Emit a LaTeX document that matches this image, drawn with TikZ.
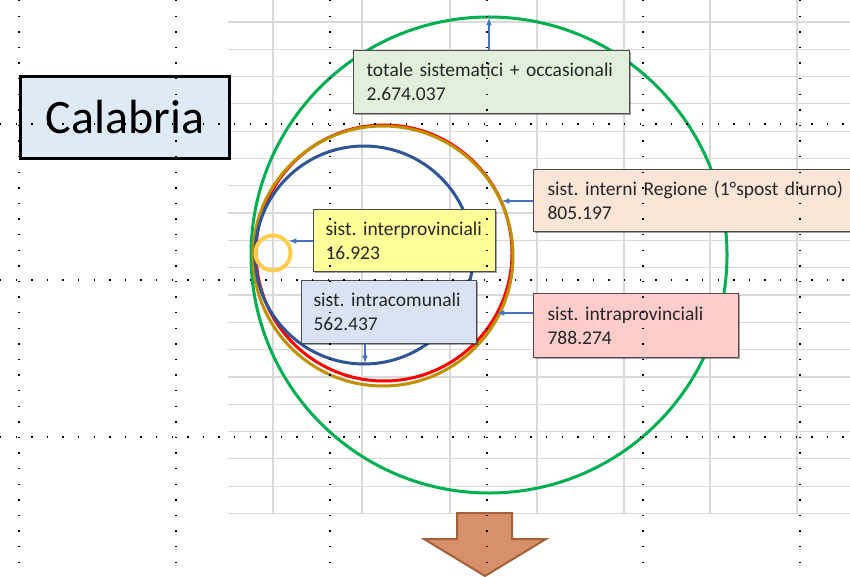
\documentclass[tikz,border=0pt]{standalone}
\usepackage{fontspec}
\setmainfont{Carlito}
\usepackage{tikz}
\usetikzlibrary{positioning}
\usetikzlibrary{shadows}
\frenchspacing

\definecolor{cellgrid}{HTML}{D9D9D9}
\definecolor{ringgreen}{HTML}{00B050}
\definecolor{ringred}{HTML}{FF0000}
\definecolor{ringgold}{HTML}{BF9000}
\definecolor{ringblue}{HTML}{2F5597}
\definecolor{ringyellow}{HTML}{FFCC4D}
\definecolor{arrowblue}{HTML}{4472C4}
\definecolor{totfill}{HTML}{E2EFDA}
\definecolor{regfill}{HTML}{FBE5D6}
\definecolor{interfill}{HTML}{FFFF99}
\definecolor{comfill}{HTML}{DAE3F3}
\definecolor{provfill}{HTML}{FFCCCC}
\definecolor{calfill}{HTML}{DEEBF7}
\definecolor{downfill}{HTML}{D6906A}
\definecolor{downdraw}{HTML}{A5603A}

\begin{document}
\begin{tikzpicture}[x=1pt,y=-1pt,
	label box/.style={draw=black!70, line width=1.2pt, anchor=north west, align=left, inner xsep=13pt, inner ysep=0pt, font=\fontsize{19.5}{24}\selectfont, text=black!85, drop shadow={shadow xshift=1.5pt, shadow yshift=-1.5pt, opacity=0.35, fill=black}},
	pointer/.style={->, >=latex, line width=1.5pt, draw=arrowblue},
	ring/.style={line width=3pt},
	pagedots/.style={line width=1.4pt, dash pattern=on 1.4pt off 14.2pt}]
	\fill [white] (0,0) rectangle (850,577);
	\useasboundingbox (0,0) rectangle (850,577);
	% Sheet Grid %
	\foreach \gx in {273,362,450,537,624,710,797}
		\draw [cellgrid, line width=1.2pt] (\gx,0) -- (\gx,513);
	\foreach \gy in {0,...,18}
		\draw [cellgrid, line width=1.2pt] (228,22+27.3*\gy) -- (850,22+27.3*\gy);
	% Rings %
	\draw [ring, ringgreen] (489,255) circle (238);
	\draw [ring, ringred] (384,253) circle (128);
	\draw [ring, ringgold] (383,256) circle (130);
	\draw [ring, ringblue] (364,255) circle (109);
	\draw [line width=4pt, ringyellow] (273,253) circle (17.5);
	\coordinate (greentop) at (489,18);
	\coordinate (redright) at (502,201);
	\coordinate (redlow) at (497,313);
	\coordinate (smallright) at (289,241);
	\coordinate (bluebottom) at (365,363);
	% Labels %
	\node (calabria) [draw=black, line width=3pt, fill=calfill, anchor=north west, minimum width=209pt, minimum height=82pt, font=\fontsize{48}{58}\selectfont] at (19,75) {Calabria};
	\node (totale) [label box, fill=totfill, minimum width=276pt, minimum height=63pt, text width=250pt] at (353,50) {\mbox{totale sistematici + occasionali}\\2.674.037};
	\node (interni) [label box, fill=regfill, minimum width=317pt, minimum height=62pt, text width=289pt, inner xsep=14pt] at (533,169) {\mbox{sist. interni Regione (1°spost diurno)}\\805.197};
	\node (interprov) [label box, fill=interfill, minimum width=182pt, minimum height=62pt, text width=158pt, inner xsep=12pt] at (313,209) {\mbox{sist. interprovinciali}\\16.923};
	\node (intracom) [label box, fill=comfill, minimum width=175pt, minimum height=63pt, text width=151pt, inner xsep=12pt] at (301,280) {\mbox{sist. intracomunali}\\562.437};
	\node (intraprov) [label box, fill=provfill, minimum width=205pt, minimum height=64pt, text width=177pt, inner xsep=14pt] at (533,293) {\mbox{sist. intraprovinciali}\\788.274};
	% Pointers %
	\draw [pointer] (totale.north -| greentop) -- (greentop);
	\draw [pointer] (interni.west |- redright) -- (redright);
	\draw [pointer] (intraprov.west |- redlow) -- (redlow);
	\draw [pointer] (interprov.west |- smallright) -- (smallright);
	\draw [pointer] (intracom.south -| bluebottom) -- (bluebottom);
	% Down Arrow %
	\filldraw [fill=downfill, draw=downdraw, line width=2pt, line join=miter] (457,513) -- (512,513) -- (512,539) -- (546,539) -- (485,576) -- (424,539) -- (457,539) -- cycle;
	% Page Breaks %
	\foreach \px in {19,176,330,487,643,800}
		\draw [pagedots] (\px,0) -- (\px,577);
	\foreach \py in {124,280,437}
		\draw [pagedots] (0,\py) -- (850,\py);
\end{tikzpicture}
\end{document}
